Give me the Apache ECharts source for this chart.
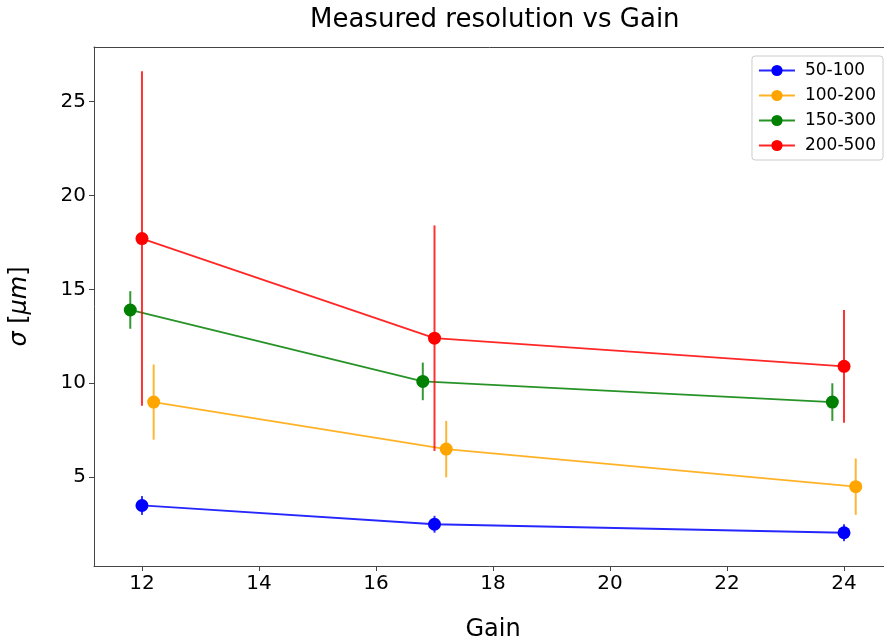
<!DOCTYPE html>
<html>
<head>
<meta charset="utf-8">
<script src="https://cdn.jsdelivr.net/npm/echarts@6/dist/echarts.min.js"></script>
<style>
html,body{margin:0;padding:0;background:#fff;}
#chart{width:884px;height:643px;}
</style>
</head>
<body>
<div id="chart"></div>
<script>
// ---- data ----
const seriesNames = ['50-100', '100-200', '150-300', '200-500'];
const gain5010  = [12, 17, 24];
const res50100  = [3.5, 2.5, 2.05];
const err50100  = [0.5, 0.45, 0.45];
const gain100200 = [12.2, 17.2, 24.2];
const res100200  = [9.0, 6.5, 4.5];
const err100200  = [2.0, 1.5, 1.5];
const gain150300 = [11.8, 16.8, 23.8];
const res150300  = [13.9, 10.1, 9.0];
const err150300  = [1.0, 1.0, 1.0];
const gain200500 = [12, 17, 24];
const res200500  = [17.7, 12.4, 10.9];
const err200500  = [8.9, 6.0, 3.0];
const xTicks = [12, 14, 16, 18, 20, 22, 24];
const yTicks = [5, 10, 15, 20, 25];

const groups = [
  {name: seriesNames[0], x: gain5010,   y: res50100,  e: err50100,  color: '#0000ff'},
  {name: seriesNames[1], x: gain100200, y: res100200, e: err100200, color: '#ffa500'},
  {name: seriesNames[2], x: gain150300, y: res150300, e: err150300, color: '#008000'},
  {name: seriesNames[3], x: gain200500, y: res200500, e: err200500, color: '#ff0000'}
];

const FONT = 'DejaVu Sans';
const lineSeries = [];
const errSeries = [];
groups.forEach((g, gi) => {
  errSeries.push({
    type: 'custom',
    name: g.name,
    z: 2 + gi * 3,
    clip: true,
    itemStyle: {color: g.color},
    data: g.x.map((x, i) => [x, g.y[i] - g.e[i], g.y[i] + g.e[i]]),
    renderItem: function (params, api) {
      const p1 = api.coord([api.value(0), api.value(1)]);
      const p2 = api.coord([api.value(0), api.value(2)]);
      return {
        type: 'line',
        shape: {x1: p1[0], y1: p1[1], x2: p2[0], y2: p2[1]},
        style: {stroke: g.color, lineWidth: 2, opacity: 0.8}
      };
    },
    encode: {x: 0, y: [1, 2]},
    silent: true
  });
  lineSeries.push({
    type: 'line',
    name: g.name,
    z: 3 + gi * 3,
    data: g.x.map((x, i) => [x, g.y[i]]),
    symbol: 'circle',
    symbolSize: 13,
    showSymbol: true,
    itemStyle: {color: g.color, opacity: 1},
    lineStyle: {color: g.color, width: 1.8, opacity: 0.85},
    emphasis: {disabled: true},
    animation: false
  });
});

const chart = echarts.init(document.getElementById('chart'), null, {renderer: 'canvas'});
chart.setOption({
  animation: false,
  backgroundColor: '#ffffff',
  title: {
    text: 'Measured resolution vs Gain',
    left: 305, top: 2,
    textStyle: {fontFamily: FONT, fontSize: 26, fontWeight: 'normal', color: '#000'}
  },
  grid: {
    left: 94, top: 47, right: -8, bottom: 77,
    outerBoundsMode: 'none',
    containLabel: false,
    show: false
  },
  legend: {
    data: seriesNames.map(n => ({name: n})),
    right: 1, top: 56,
    orient: 'vertical',
    itemWidth: 36, itemHeight: 14, itemGap: 8,
    padding: [6, 7, 6, 6],
    borderColor: '#ccc', borderWidth: 1, borderRadius: 3,
    backgroundColor: '#fff',
    textStyle: {fontFamily: FONT, fontSize: 17, color: '#000', lineHeight: 16, padding: [0, 0, 0, 5]}
  },
  xAxis: [{
    type: 'value',
    min: 11.18, max: 24.82,
    name: 'Gain', nameLocation: 'middle', nameGap: 52,
    nameTextStyle: {fontFamily: FONT, fontSize: 24, color: '#000'},
    axisLine: {show: true, onZero: false, lineStyle: {color: '#444', width: 1}},
    axisTick: {show: true, inside: false, length: 5, lineStyle: {color: '#444'}, customValues: xTicks},
    axisLabel: {fontFamily: FONT, fontSize: 20, color: '#000', margin: 8, customValues: xTicks},
    splitLine: {show: false}
  }, {
    type: 'value', position: 'top',
    min: 11.18, max: 24.82,
    axisLine: {show: true, onZero: false, lineStyle: {color: '#444', width: 1}},
    axisTick: {show: false}, axisLabel: {show: false}, splitLine: {show: false}
  }],
  yAxis: {
    type: 'value',
    min: 0.28, max: 27.89,
    name: '{i|σ} [{i|μm}]', nameLocation: 'middle', nameGap: 62, nameRotate: 90,
    nameTextStyle: {fontFamily: FONT, fontSize: 24, color: '#000',
      rich: {i: {fontFamily: FONT, fontSize: 24, fontStyle: 'italic', color: '#000'}}},
    axisLine: {show: true, onZero: false, lineStyle: {color: '#444', width: 1}},
    axisTick: {show: true, inside: false, length: 5, lineStyle: {color: '#444'}, customValues: yTicks},
    axisLabel: {fontFamily: FONT, fontSize: 20, color: '#000', margin: 8, customValues: yTicks},
    splitLine: {show: false}
  },
  series: lineSeries.concat(errSeries)
});
</script>
</body>
</html>
